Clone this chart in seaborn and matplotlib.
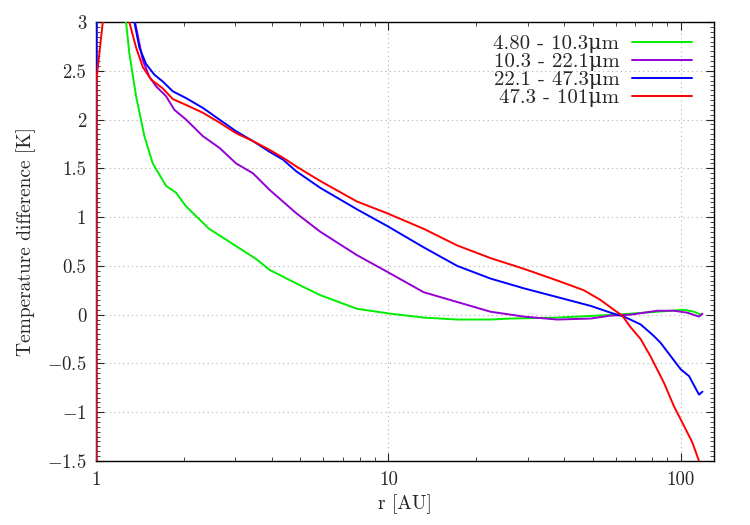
import numpy as np
import pandas as pd
import seaborn as sns
import matplotlib
matplotlib.use("Agg")
from matplotlib import pyplot as plt
from matplotlib.ticker import MultipleLocator, FixedLocator, LogLocator, NullFormatter

# series labels and colours
labels = ["4.80 - 10.3μm", "10.3 - 22.1μm", "22.1 - 47.3μm", "47.3 - 101μm"]
colors = ["#00ee00", "#9400d3", "#0000ff", "#ff0000"]

# values (r in AU, temperature difference in K)
r_green = [1.001, 1.005, 1.1, 1.2, 1.267, 1.300, 1.371, 1.464, 1.564, 1.736, 1.879, 2.033,
           2.200, 2.438, 2.716, 3.096, 3.531, 3.922, 4.841, 5.85, 7.81, 10.16, 13.21,
           17.19, 22.36, 26.17, 37.8, 60.7, 83.2, 102.6, 111.1, 117.1]
t_green = [-5, 4, 6, 4.5, 3.0, 2.68, 2.24, 1.83, 1.55, 1.32, 1.25, 1.11,
           1.01, 0.88, 0.79, 0.68, 0.57, 0.46, 0.32, 0.20, 0.06, 0.01, -0.03,
           -0.05, -0.05, -0.04, -0.03, 0.0, 0.03, 0.05, 0.03, 0.0]

r_purple = [1.001, 1.005, 1.1, 1.25, 1.36, 1.445, 1.522, 1.606, 1.736, 1.854, 2.033, 2.320,
            2.644, 3.016, 3.441, 3.922, 4.359, 4.841, 5.85, 7.81, 9.90, 13.21, 17.19,
            22.36, 29.07, 37.83, 49.19, 57.59, 67.44, 83.23, 94.85, 105.4, 115.5, 118.7]
t_purple = [-5, 4, 6, 4, 3.0, 2.61, 2.44, 2.34, 2.24, 2.10, 2.0, 1.83,
            1.71, 1.55, 1.45, 1.28, 1.16, 1.04, 0.85, 0.61, 0.44, 0.23, 0.13,
            0.03, -0.02, -0.05, -0.04, -0.01, 0.0, 0.04, 0.04, 0.02, -0.02, 0.01]

r_blue = [1.001, 1.004, 1.1, 1.25, 1.353, 1.407, 1.483, 1.584, 1.692, 1.831, 2.033, 2.320,
          2.644, 3.016, 3.441, 3.922, 4.359, 4.841, 5.85, 7.81, 9.90, 13.21, 17.19,
          22.36, 29.07, 37.83, 49.19, 57.59, 63.94, 72.94, 81.03, 85.42, 100, 106.8,
          115.5, 118.7]
t_blue = [-5, 4, 6, 4, 3.0, 2.74, 2.57, 2.46, 2.39, 2.29, 2.22, 2.12,
          2.0, 1.88, 1.78, 1.67, 1.59, 1.47, 1.30, 1.08, 0.91, 0.69, 0.50,
          0.37, 0.27, 0.18, 0.09, 0.02, -0.02, -0.10, -0.22, -0.29, -0.56, -0.63,
          -0.82, -0.79]

r_red = [1.001, 1.003, 1.055, 1.1, 1.2, 1.300, 1.371, 1.445, 1.543, 1.692, 1.831, 2.033,
         2.320, 2.644, 3.016, 3.441, 3.922, 4.359, 4.841, 5.85, 7.81, 9.90, 13.21,
         17.19, 22.36, 29.07, 37.83, 46.66, 53.21, 59.11, 63.15, 67.44, 72.94, 78.94,
         87.68, 94.85, 102.6, 109.6, 115.5, 118.7]
t_red = [-5, 2.4, 3.0, 4, 4.5, 3.0, 2.74, 2.54, 2.41, 2.32, 2.21, 2.15,
         2.07, 1.97, 1.86, 1.78, 1.69, 1.61, 1.52, 1.37, 1.16, 1.04, 0.88,
         0.71, 0.58, 0.47, 0.35, 0.25, 0.15, 0.05, -0.01, -0.13, -0.25, -0.43,
         -0.70, -0.94, -1.14, -1.31, -1.50, -1.62]

series = [(r_green, t_green), (r_purple, t_purple), (r_blue, t_blue), (r_red, t_red)]
frames = []
for lab, (r, t) in zip(labels, series):
    frames.append(pd.DataFrame({"r": r, "dT": t, "band": lab}))
df = pd.concat(frames, ignore_index=True)

sns.set_style("ticks")
plt.rcParams["font.family"] = ["cmr10", "DejaVu Serif"]
plt.rcParams["mathtext.fontset"] = "cm"
plt.rcParams["axes.formatter.use_mathtext"] = True
plt.rcParams["font.size"] = 13

fig = plt.figure(figsize=(7.5, 5.25), dpi=100)
ax = fig.add_axes([0.128, 0.122, 0.824, 0.836])

sns.lineplot(data=df, x="r", y="dT", hue="band", palette=colors,
             hue_order=labels, linewidth=1.4, estimator=None, sort=False, ax=ax)
for ln in ax.lines:
    ln.set_zorder(3)  # draw over the left spine like the original

ax.set_xscale("log")
ax.set_xlim(1, 130)
ax.set_ylim(-1.5, 3)

ax.xaxis.set_major_locator(FixedLocator([1, 10, 100]))
ax.set_xticklabels(["1", "10", "100"])
ax.xaxis.set_minor_locator(LogLocator(base=10, subs=np.arange(2, 10)))
ax.xaxis.set_minor_formatter(NullFormatter())
ax.yaxis.set_major_locator(MultipleLocator(0.5))
ax.yaxis.set_minor_locator(MultipleLocator(0.05))
ax.set_yticks([-1.5, -1, -0.5, 0, 0.5, 1, 1.5, 2, 2.5, 3])
ax.set_yticklabels(["$-1.5$", "$-1$", "$-0.5$", "0", "0.5", "1", "1.5", "2", "2.5", "3"])

ax.tick_params(which="both", direction="in", top=True, right=True, labelsize=13.5, pad=7)
ax.tick_params(which="major", length=6, width=0.8)
ax.tick_params(which="minor", length=3, width=0.6)
for s in ax.spines.values():
    s.set_linewidth(1.0)
    s.set_color("black")

ax.grid(True, which="major", linestyle=(0, (1, 3)), color="#b0b0b0", linewidth=0.8)

ax.set_xlabel("r [AU]", fontsize=14, labelpad=4)
ax.set_ylabel("Temperature difference [K]", fontsize=14, labelpad=8)

ax.legend(loc="upper right", frameon=False, markerfirst=False, fontsize=15,
          handlelength=2.9, handletextpad=0.6, labelspacing=-0.03,
          borderaxespad=0.2, bbox_to_anchor=(0.985, 1.0))

fig.savefig("out.png", dpi=100)
